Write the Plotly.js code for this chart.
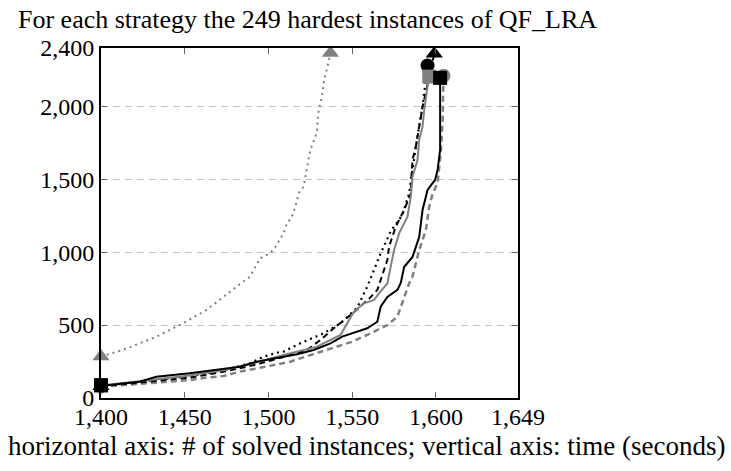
<!DOCTYPE html>
<html>
<head>
<meta charset="utf-8">
<script src="https://cdn.plot.ly/plotly-3.0.1.min.js"></script>
<style>html,body{margin:0;padding:0;background:#fff;}#chart{width:731px;height:471px;}</style>
</head>
<body>
<div id="chart"></div>
<script>
const grayDottedX = [1400,1413,1433,1449,1463,1473,1481,1489,1495,1499,1503,1506,1509,1511,1514,1516,1518,1521,1522,1523,1525,1528,1529,1530,1532,1533,1535,1537];
const grayDottedY = [285,329,420,512,604,695,764,832,958,981,1015,1072,1129,1198,1243,1312,1404,1449,1518,1586,1701,1792,1838,1975,2067,2160,2275,2365];

const grayDashedX = [1400,1423,1433,1453,1463,1473,1483,1493,1507,1513,1519,1531,1541,1550,1561,1571,1577,1582,1584,1586,1590,1594,1596,1598,1601,1603,1604,1604.5];
const grayDashedY = [78,95,105,123,140,150,181,203,238,249,272,318,352,386,444,500,558,720,786,832,1015,1152,1312,1400,1474,1701,1900,2210];

const blackDottedX = [1400,1433,1453,1473,1489,1497,1505,1509,1519,1533,1543,1553,1559,1563,1567,1573,1580,1584,1586,1589,1592,1593,1595];
const blackDottedY = [82,125,150,190,238,283,310,318,375,444,512,620,764,878,992,1143,1255,1404,1564,1800,2000,2090,2280];

const blackDashedX = [1400,1433,1453,1473,1493,1510,1523,1531,1539,1549,1560,1565,1571,1572,1576,1581,1585,1585.5,1586,1588,1592,1596,1599];
const blackDashedY = [80,118,140,180,230,285,329,398,478,569,680,741,947,1038,1175,1289,1404,1541,1632,1724,1996,2200,2360];

const graySolidX = [1400,1433,1453,1473,1493,1509,1529,1543,1547,1551,1557,1563,1566,1571,1573,1575,1578,1583,1585,1586,1589,1590,1592,1593,1595,1596];
const graySolidY = [85,130,155,190,245,295,352,432,512,592,649,672,718,786,901,1015,1129,1243,1381,1518,1632,1770,1861,1975,2137,2204];

const blackSolidX = [1400,1405,1423,1433,1453,1473,1483,1493,1503,1507,1513,1517,1527,1537,1544,1553,1559,1565,1567,1571,1577,1579,1581,1586,1590,1592,1595,1598,1599.5,1601,1602.5,1602.5];
const blackSolidY = [88,90,112,146,169,203,215,249,272,280,295,300,329,375,421,455,478,523,626,693,741,789,898,967,1104,1289,1427,1474,1495,1564,1701,2195];

const xTicks = [1400,1450,1500,1550,1600,1649];
const yTicks = [0,500,1000,1500,2000,2400];

const GRAY = '#808080';
const series = [
  {x: grayDottedX, y: grayDottedY, color: GRAY, dash: '2px,4px', width: 2, symbol: 'triangle-up'},
  {x: grayDashedX, y: grayDashedY, color: GRAY, dash: '6px,4px', width: 2.5, symbol: 'circle'},
  {x: blackDottedX, y: blackDottedY, color: '#000', dash: '2px,4px', width: 2.2, symbol: 'circle'},
  {x: blackDashedX, y: blackDashedY, color: '#000', dash: '6px,4px', width: 2, symbol: 'triangle-up'},
  {x: graySolidX, y: graySolidY, color: GRAY, dash: 'solid', width: 2, symbol: 'square'},
  {x: blackSolidX, y: blackSolidY, color: '#000', dash: 'solid', width: 2, symbol: 'square'}
];

const traces = [];
series.forEach(s => {
  traces.push({x: s.x, y: s.y, type: 'scatter', mode: 'lines',
    line: {color: s.color, dash: s.dash, width: s.width}, cliponaxis: false, hoverinfo: 'skip'});
});
series.forEach(s => {
  const n = s.x.length;
  traces.push({x: [s.x[0], s.x[n-1]], y: [s.y[0], s.y[n-1]], type: 'scatter', mode: 'markers',
    marker: {symbol: s.symbol, color: s.color, size: s.symbol === 'triangle-up' ? 15 : 14, line: {width: 0}},
    cliponaxis: false, hoverinfo: 'skip'});
});

const FAM = 'Liberation Serif, DejaVu Serif, serif';
const tickFont = {family: FAM, size: 24, color: '#000'};
const titleFont = {family: FAM, size: 26, color: '#000'};
const noteFont = {family: FAM, size: 27, color: '#000'};

const layout = {
  width: 731, height: 471,
  margin: {l: 101, r: 213, t: 48, b: 73, pad: 0},
  paper_bgcolor: '#fff', plot_bgcolor: '#fff',
  showlegend: false,
  font: tickFont,
  title: {text: 'For each strategy the 249 hardest instances of QF_LRA', x: 18/731, xanchor: 'left', y: 1 - 19/471, yanchor: 'middle', font: titleFont},
  xaxis: {
    range: [1400, 1649], tickvals: xTicks, ticktext: xTicks.map(v => v.toLocaleString('en-US')),
    ticks: 'inside', ticklen: 6, tickwidth: 1, tickcolor: '#666',
    showline: true, linecolor: '#000', linewidth: 2, mirror: 'allticks',
    showgrid: false, zeroline: false, tickfont: tickFont, ticklabelstandoff: -4
  },
  yaxis: {
    range: [0, 2400], tickvals: yTicks, ticktext: yTicks.map(v => v.toLocaleString('en-US')),
    ticks: 'inside', ticklen: 6, tickwidth: 1, tickcolor: '#666',
    showline: true, linecolor: '#000', linewidth: 2, mirror: 'allticks',
    showgrid: true, gridcolor: '#c4c4c4', gridwidth: 1, griddash: '7px,5px',
    zeroline: false, tickfont: tickFont
  },
  annotations: [{
    text: 'horizontal axis: # of solved instances; vertical axis: time (seconds)',
    xref: 'paper', yref: 'paper', x: (367 - 101)/417, y: -(446 - 398)/350,
    xanchor: 'center', yanchor: 'middle', showarrow: false, font: noteFont
  }]
};

Plotly.newPlot('chart', traces, layout, {displayModeBar: false, staticPlot: true});
</script>
</body>
</html>
